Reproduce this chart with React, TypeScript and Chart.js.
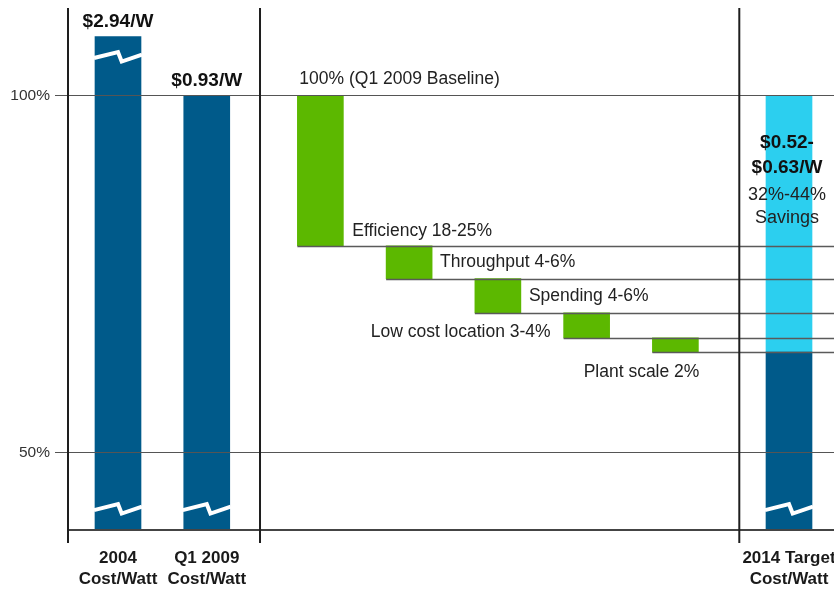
import React, { useEffect, useRef } from "react";
import { Chart, registerables } from "chart.js";

Chart.register(...registerables);

// ---------- data ----------
const categories = ["2004", "Q1 2009", "Efficiency", "Throughput", "Spending", "Low cost location", "Plant scale", "2014 Target"];
const categoryGroup = [0, 0, 1, 1, 1, 1, 1, 2];
const axisLabels: (string[] | null)[] = [
  ["2004", "Cost/Watt"],
  ["Q1 2009", "Cost/Watt"],
  null, null, null, null, null,
  ["2014 Target", "Cost/Watt"],
];

// cost per watt bars, in % of the Q1 2009 baseline (2004 bar is truncated)
const costValues: (number | null)[] = [108.3, 100, null, null, null, null, null, 64.1];
const costLabels = ["$2.94/W", "$0.93/W"];

// waterfall savings steps
const stepStart = [100, 79, 74.4, 69.6, 66.1];
const stepEnd = [79, 74.4, 69.6, 66.1, 64.1];
const stepLabels = ["Efficiency 18-25%", "Throughput 4-6%", "Spending 4-6%", "Low cost location 3-4%", "Plant scale 2%"];
const baselineLabel = "100% (Q1 2009 Baseline)";

// 2014 target savings range
const savingsRange = [64.1, 100];
const targetLabels = ["$0.52-", "$0.63/W", "32%-44%", "Savings"];

const yTicks = [50, 100];
const breakAt = [42.2, 105.5]; // % levels where cost bars are drawn broken

// ---------- layout / style ----------
const GROUP_GAP = 0.28;
const X_MIN = -0.5633;
const X_MAX = 8.067;
const Y_MIN = 39.2;
const Y_MAX = 112.3;
const SEPARATORS = [1.6, 7.0];

const DARK = "#005a8a";
const GREEN = "#5cb800";
const CYAN = "#2ccfef";
const SANS = '"Liberation Sans", Arial, sans-serif';

const xPositions = categories.map((_, i) => i + categoryGroup[i] * GROUP_GAP);
const stepIdx = [2, 3, 4, 5, 6];
const targetIdx = 7;
const costIdx = costValues.map((v, i) => (v == null ? -1 : i)).filter((i) => i >= 0);
const labelledIdx = axisLabels.map((l, i) => (l ? i : -1)).filter((i) => i >= 0);

const overlay = {
  id: "overlay",
  afterDraw(chart: any) {
    const { ctx, chartArea } = chart;
    const xs = chart.scales.x;
    const ys = chart.scales.y;
    ctx.save();

    // break marks on cost bars
    const costMeta = chart.getDatasetMeta(0);
    costMeta.data.forEach((bar: any, j: number) => {
      const v = costValues[costIdx[j]] as number;
      const w = bar.width;
      const L = bar.x - w / 2;
      const R = bar.x + w / 2;
      breakAt.forEach((b) => {
        if (b < v - 2) {
          const y0 = ys.getPixelForValue(b);
          ctx.beginPath();
          ctx.moveTo(L - 1, y0 + 1.5);
          ctx.lineTo(L + 0.5 * w, y0 - 4.5);
          ctx.lineTo(L + 0.58 * w, y0 + 5);
          ctx.lineTo(R + 1, y0 - 2);
          ctx.strokeStyle = "#ffffff";
          ctx.lineWidth = 4;
          ctx.lineJoin = "miter";
          ctx.stroke();
        }
      });
    });

    // connector lines from each step bottom
    const stepMeta = chart.getDatasetMeta(1);
    stepMeta.data.forEach((bar: any, i: number) => {
      const yy = Math.round(ys.getPixelForValue(stepEnd[i])) + 0.5;
      ctx.beginPath();
      ctx.moveTo(bar.x - bar.width / 2, yy);
      ctx.lineTo(chartArea.right, yy);
      ctx.strokeStyle = "#5a5a5a";
      ctx.lineWidth = 1.3;
      ctx.stroke();
    });

    // x axis line
    ctx.beginPath();
    ctx.moveTo(chartArea.left, chartArea.bottom);
    ctx.lineTo(chartArea.right, chartArea.bottom);
    ctx.strokeStyle = "#444";
    ctx.lineWidth = 2;
    ctx.stroke();

    // vertical lines (y axis + group separators)
    const vx = [chartArea.left, ...SEPARATORS.map((s) => xs.getPixelForValue(s))];
    vx.forEach((px) => {
      ctx.beginPath();
      ctx.moveTo(px, chartArea.top);
      ctx.lineTo(px, chartArea.bottom + 13);
      ctx.strokeStyle = "#1e1e1e";
      ctx.lineWidth = 2;
      ctx.stroke();
    });

    // cost labels
    ctx.fillStyle = "#111";
    ctx.textBaseline = "middle";
    ctx.textAlign = "center";
    ctx.font = `bold 19px ${SANS}`;
    costMeta.data.forEach((bar: any, j: number) => {
      if (j >= costLabels.length) return;
      const top = ys.getPixelForValue(costValues[costIdx[j]] as number);
      ctx.fillText(costLabels[j], bar.x, top - 15);
    });

    // step labels
    ctx.fillStyle = "#222";
    ctx.font = `17.5px ${SANS}`;
    stepMeta.data.forEach((bar: any, i: number) => {
      const L = bar.x - bar.width / 2;
      const R = bar.x + bar.width / 2;
      const top = ys.getPixelForValue(stepStart[i]);
      const bot = ys.getPixelForValue(stepEnd[i]);
      const mid = (top + bot) / 2;
      if (i === 0) {
        ctx.textAlign = "left";
        ctx.fillText(baselineLabel, L + 2, top - 17);
        ctx.fillText(stepLabels[i], R + 9, bot - 15);
      } else if (i === 1 || i === 2) {
        ctx.textAlign = "left";
        ctx.fillText(stepLabels[i], R + 8, mid);
      } else if (i === 3) {
        ctx.textAlign = "right";
        ctx.fillText(stepLabels[i], L - 13, mid + 7);
      } else {
        ctx.textAlign = "right";
        ctx.fillText(stepLabels[i], R + 1, bot + 20);
      }
    });

    // target labels
    const savMeta = chart.getDatasetMeta(2);
    const tbar: any = savMeta.data[0];
    const ttop = ys.getPixelForValue(savingsRange[1]);
    const offs = [47, 72, 99, 122];
    ctx.textAlign = "center";
    targetLabels.forEach((t, k) => {
      ctx.font = k < 2 ? `bold 19px ${SANS}` : `18px ${SANS}`;
      ctx.fillStyle = k < 2 ? "#111" : "#222";
      ctx.fillText(t, tbar.x - 2, ttop + offs[k]);
    });

    ctx.restore();
  },
};

export default function App() {
  const ref = useRef<HTMLCanvasElement>(null);
  useEffect(() => {
    const costData = costIdx.map((i) => ({ x: xPositions[i], y: [Y_MIN, costValues[i] as number] }));
    const stepData = stepIdx.map((ci, k) => ({ x: xPositions[ci], y: [stepEnd[k], stepStart[k]] }));
    const savData = [{ x: xPositions[targetIdx], y: [savingsRange[0], savingsRange[1]] }];

    const chart = new Chart(ref.current as HTMLCanvasElement, {
      type: "bar",
      data: {
        datasets: [
          { label: "Cost/Watt", data: costData as any, backgroundColor: DARK },
          { label: "Savings steps", data: stepData as any, backgroundColor: GREEN },
          { label: "2014 savings", data: savData as any, backgroundColor: CYAN },
        ],
      },
      options: {
        responsive: false,
        animation: false,
        devicePixelRatio: 1,
        layout: { padding: { top: 8, left: 0, right: 0, bottom: 0 } },
        datasets: { bar: { barThickness: 46, grouped: false, borderWidth: 0 } } as any,
        plugins: { legend: { display: false }, tooltip: { enabled: false } },
        scales: {
          x: {
            type: "linear",
            min: X_MIN,
            max: X_MAX,
            offset: false,
            grid: { display: false, drawTicks: false },
            border: { display: false },
            afterBuildTicks: (s: any) => {
              s.ticks = labelledIdx.map((i) => ({ value: xPositions[i] }));
            },
            afterFit: (s: any) => {
              s.height = 63;
              s.paddingLeft = 0;
              s.paddingRight = 0;
            },
            ticks: {
              autoSkip: false,
              maxRotation: 0,
              minRotation: 0,
              padding: 18,
              color: "#1a1a1a",
              font: { family: SANS, size: 17, weight: "bold", lineHeight: 1.24 },
              callback: (_v: any, index: number) => axisLabels[labelledIdx[index]] as any,
            },
          },
          y: {
            type: "linear",
            min: Y_MIN,
            max: Y_MAX,
            grid: { color: "#555", lineWidth: 1, tickLength: 13, drawTicks: true, z: 1 } as any,
            border: { display: false },
            afterBuildTicks: (s: any) => {
              s.ticks = yTicks.map((v) => ({ value: v }));
            },
            afterFit: (s: any) => {
              s.width = 68;
              s.paddingTop = 0;
              s.paddingBottom = 0;
            },
            ticks: {
              padding: 5,
              color: "#333",
              font: { family: SANS, size: 15.5 },
              callback: (v: any) => `${v}%`,
            },
          },
        },
      },
      plugins: [overlay],
    });
    return () => chart.destroy();
  }, []);

  return (
    <div style={{ position: "absolute", left: 0, top: 0, width: 834, height: 593, background: "#fff" }}>
      <canvas ref={ref} width={834} height={593} style={{ display: "block" }} />
    </div>
  );
}
